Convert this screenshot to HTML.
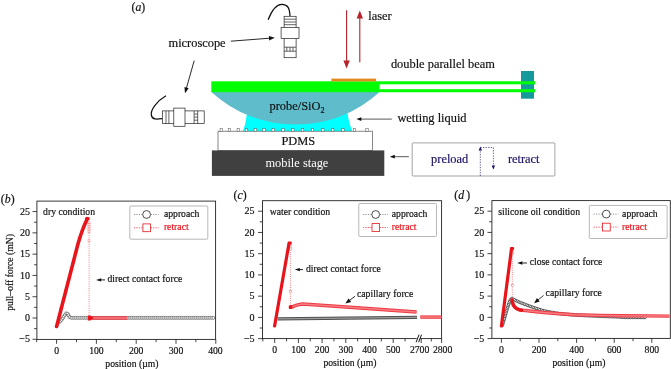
<!DOCTYPE html>
<html><head><meta charset="utf-8"><title>figure</title>
<style>
html,body{margin:0;padding:0;background:#fff;}
body{width:671px;height:369px;overflow:hidden;font-family:"Liberation Serif",serif;}
svg{display:block;font-family:"Liberation Serif",serif;will-change:transform;}
</style></head><body>
<svg width="671" height="369" viewBox="0 0 671 369">
<rect width="671" height="369" fill="#fff"/>
<g id="partA">
<text x="131.50" y="10.60" font-size="11.8" fill="#111" stroke="#111" stroke-width="0.18" text-anchor="start" >(<tspan font-style="italic">a</tspan>)</text>
<text x="168.50" y="46.90" font-size="12.4" fill="#111" stroke="#111" stroke-width="0.18" text-anchor="start" >microscope</text>
<line x1="230.80" y1="41.20" x2="270.01" y2="38.17" stroke="#111" stroke-width="0.9" />
<polygon points="274.80,37.80 269.19,40.44 268.85,36.05" fill="#111"/>
<line x1="194.20" y1="60.60" x2="186.30" y2="88.58" stroke="#111" stroke-width="0.9" />
<polygon points="185.00,93.20 184.46,87.02 188.69,88.22" fill="#111"/>
<path d="M268.1,19.8 C272,10 276,4.2 282,4.4 C288,4.6 289.6,8 290,16.3" fill="none" stroke="#111" stroke-width="1.25"/>
<rect x="284.1" y="16.3" width="12" height="41.4" stroke="#222" stroke-width="0.7" fill="#fff"/>
<line x1="284.10" y1="19.20" x2="296.10" y2="19.20" stroke="#222" stroke-width="0.7" />
<line x1="284.10" y1="22.00" x2="296.10" y2="22.00" stroke="#222" stroke-width="0.7" />
<line x1="284.10" y1="24.70" x2="296.10" y2="24.70" stroke="#222" stroke-width="0.7" />
<rect x="281.1" y="27.6" width="17.9" height="10.9" stroke="#222" stroke-width="0.7" fill="#fff"/>
<line x1="284.10" y1="47.20" x2="296.10" y2="47.20" stroke="#222" stroke-width="0.7" />
<line x1="284.10" y1="51.20" x2="296.10" y2="51.20" stroke="#222" stroke-width="0.7" />
<line x1="286.80" y1="47.20" x2="286.80" y2="51.20" stroke="#222" stroke-width="0.7" />
<line x1="290.00" y1="47.20" x2="290.00" y2="51.20" stroke="#222" stroke-width="0.7" />
<line x1="293.00" y1="47.20" x2="293.00" y2="51.20" stroke="#222" stroke-width="0.7" />
<path d="M166,95.8 C157,101 150,110 151.4,115.5 C152.5,120 157,119.3 162.4,118.6" fill="none" stroke="#111" stroke-width="1.25"/>
<rect x="162.4" y="110.9" width="41.8" height="12.7" stroke="#222" stroke-width="0.7" fill="#fff"/>
<line x1="166.00" y1="110.90" x2="166.00" y2="123.60" stroke="#222" stroke-width="0.7" />
<line x1="168.90" y1="110.90" x2="168.90" y2="123.60" stroke="#222" stroke-width="0.7" />
<rect x="173.8" y="108.1" width="11.2" height="18.2" stroke="#222" stroke-width="0.7" fill="#fff"/>
<line x1="194.10" y1="110.90" x2="194.10" y2="123.60" stroke="#222" stroke-width="0.7" />
<line x1="197.70" y1="110.90" x2="197.70" y2="123.60" stroke="#222" stroke-width="0.7" />
<line x1="194.10" y1="114.10" x2="197.70" y2="114.10" stroke="#222" stroke-width="0.7" />
<line x1="194.10" y1="117.10" x2="197.70" y2="117.10" stroke="#222" stroke-width="0.7" />
<line x1="194.10" y1="120.20" x2="197.70" y2="120.20" stroke="#222" stroke-width="0.7" />
<line x1="346.60" y1="10.30" x2="346.60" y2="61.50" stroke="#b5222d" stroke-width="1.1" />
<polygon points="346.60,68.50 343.40,60.50 349.80,60.50" fill="#b5222d"/>
<line x1="359.80" y1="62.30" x2="359.80" y2="17.60" stroke="#b5222d" stroke-width="1.1" />
<polygon points="359.80,10.60 363.00,18.60 356.60,18.60" fill="#b5222d"/>
<text x="368.20" y="19.60" font-size="12.4" fill="#111" stroke="#111" stroke-width="0.18" text-anchor="start" >laser</text>
<text x="390.90" y="68.20" font-size="12.4" fill="#111" stroke="#111" stroke-width="0.18" text-anchor="start" >double parallel beam</text>
<path d="M242.8,131.4 Q246.4,122.5 247.6,107 L347,107 Q347.7,121 352.5,131.4 Z" fill="#00ffff"/>
<path d="M211.3,91.5 L379.6,91.5 A124.9,124.9 0 0 1 211.3,91.5 Z" fill="#5fbccb" transform="translate(0,0.5)"/>
<rect x="211.3" y="81.3" width="168.3" height="10.9" fill="#00ff00"/>
<rect x="379" y="81.3" width="156" height="3" fill="#00ff00"/>
<rect x="379" y="89.2" width="156" height="3" fill="#00ff00"/>
<rect x="331.4" y="78.6" width="44.7" height="2.8" fill="#e08a1e"/>
<rect x="521" y="71" width="13" height="27.7" fill="#159a9c"/>
<rect x="521" y="81.3" width="14" height="3" fill="#00ff00"/>
<rect x="521" y="89.2" width="14" height="3" fill="#00ff00"/>
<text x="269.50" y="109.80" font-size="12.4" fill="#111" stroke="#111" stroke-width="0.18" text-anchor="start" >probe/SiO<tspan font-size="8.2" dy="3.6">2</tspan></text>
<rect x="218.0" y="131.2" width="154.6" height="19.3" fill="#fff" stroke="#555" stroke-width="0.7"/>
<rect x="220.1" y="128.7" width="2.4" height="2.5" fill="#fff" stroke="#555" stroke-width="0.5"/>
<rect x="228.2" y="128.7" width="2.4" height="2.5" fill="#fff" stroke="#555" stroke-width="0.5"/>
<rect x="237.1" y="128.7" width="2.4" height="2.5" fill="#fff" stroke="#555" stroke-width="0.5"/>
<rect x="245.2" y="128.7" width="2.4" height="2.5" fill="#fff" stroke="#555" stroke-width="0.5"/>
<rect x="254.1" y="128.7" width="2.4" height="2.5" fill="#fff" stroke="#555" stroke-width="0.5"/>
<rect x="262.8" y="128.7" width="2.4" height="2.5" fill="#fff" stroke="#555" stroke-width="0.5"/>
<rect x="272.0" y="128.7" width="2.4" height="2.5" fill="#fff" stroke="#555" stroke-width="0.5"/>
<rect x="281.8" y="128.7" width="2.4" height="2.5" fill="#fff" stroke="#555" stroke-width="0.5"/>
<rect x="291.6" y="128.7" width="2.4" height="2.5" fill="#fff" stroke="#555" stroke-width="0.5"/>
<rect x="301.4" y="128.7" width="2.4" height="2.5" fill="#fff" stroke="#555" stroke-width="0.5"/>
<rect x="311.3" y="128.7" width="2.4" height="2.5" fill="#fff" stroke="#555" stroke-width="0.5"/>
<rect x="321.6" y="128.7" width="2.4" height="2.5" fill="#fff" stroke="#555" stroke-width="0.5"/>
<rect x="331.5" y="128.7" width="2.4" height="2.5" fill="#fff" stroke="#555" stroke-width="0.5"/>
<rect x="341.7" y="128.7" width="2.4" height="2.5" fill="#fff" stroke="#555" stroke-width="0.5"/>
<rect x="353.3" y="128.7" width="2.4" height="2.5" fill="#fff" stroke="#555" stroke-width="0.5"/>
<rect x="365.8" y="128.7" width="2.4" height="2.5" fill="#fff" stroke="#555" stroke-width="0.5"/>
<text x="281.40" y="145.40" font-size="12.4" fill="#111" stroke="#111" stroke-width="0.18" text-anchor="start" >PDMS</text>
<rect x="211.9" y="150.4" width="172.4" height="25.5" fill="#404040"/>
<text x="265.40" y="167.00" font-size="12.4" fill="#fff" stroke="#fff" stroke-width="0" text-anchor="start" >mobile stage</text>
<line x1="391.80" y1="119.10" x2="360.40" y2="119.10" stroke="#111" stroke-width="0.7" />
<polygon points="356.40,119.10 361.40,117.20 361.40,121.00" fill="#111"/>
<text x="397.40" y="122.00" font-size="12.4" fill="#111" stroke="#111" stroke-width="0.18" text-anchor="start" >wetting liquid</text>
<line x1="408.90" y1="156.70" x2="393.80" y2="156.70" stroke="#111" stroke-width="0.7" />
<polygon points="389.80,156.70 394.80,154.80 394.80,158.60" fill="#111"/>
<rect x="412.2" y="142.9" width="142.7" height="33.1" rx="0.8" fill="#fff" stroke="#666" stroke-width="0.6"/>
<text x="431.10" y="162.90" font-size="12.4" fill="#1b1464" stroke="#1b1464" stroke-width="0.18" text-anchor="start" >preload</text>
<text x="507.90" y="162.90" font-size="12.4" fill="#1b1464" stroke="#1b1464" stroke-width="0.18" text-anchor="start" >retract</text>
<path d="M480.3,176 L480.3,147.5 L493.4,147.5 L493.4,168.5" fill="none" stroke="#1b1464" stroke-width="0.7" stroke-dasharray="1.3,1.3"/>
<polygon points="480.3,146.6 478.6,150.6 482,150.6" fill="#1b1464"/>
<polygon points="493.4,169.6 491.7,165.6 495.1,165.6" fill="#1b1464"/>
</g>
<g id="chartb">
<rect x="36.9" y="201.1" width="178.70" height="138.30" fill="none" stroke="#222" stroke-width="0.9"/>
<line x1="32.50" y1="339.28" x2="36.90" y2="339.28" stroke="#222" stroke-width="0.85" />
<text x="29.90" y="342.48" font-size="10" fill="#111" stroke="#111" stroke-width="0.18" text-anchor="end" >−5</text>
<line x1="32.50" y1="318.00" x2="36.90" y2="318.00" stroke="#222" stroke-width="0.85" />
<text x="29.90" y="321.20" font-size="10" fill="#111" stroke="#111" stroke-width="0.18" text-anchor="end" >0</text>
<line x1="32.50" y1="296.72" x2="36.90" y2="296.72" stroke="#222" stroke-width="0.85" />
<text x="29.90" y="299.92" font-size="10" fill="#111" stroke="#111" stroke-width="0.18" text-anchor="end" >5</text>
<line x1="32.50" y1="275.43" x2="36.90" y2="275.43" stroke="#222" stroke-width="0.85" />
<text x="29.90" y="278.63" font-size="10" fill="#111" stroke="#111" stroke-width="0.18" text-anchor="end" >10</text>
<line x1="32.50" y1="254.15" x2="36.90" y2="254.15" stroke="#222" stroke-width="0.85" />
<text x="29.90" y="257.35" font-size="10" fill="#111" stroke="#111" stroke-width="0.18" text-anchor="end" >15</text>
<line x1="32.50" y1="232.86" x2="36.90" y2="232.86" stroke="#222" stroke-width="0.85" />
<text x="29.90" y="236.06" font-size="10" fill="#111" stroke="#111" stroke-width="0.18" text-anchor="end" >20</text>
<line x1="32.50" y1="211.57" x2="36.90" y2="211.57" stroke="#222" stroke-width="0.85" />
<text x="29.90" y="214.77" font-size="10" fill="#111" stroke="#111" stroke-width="0.18" text-anchor="end" >25</text>
<line x1="34.10" y1="328.64" x2="36.90" y2="328.64" stroke="#222" stroke-width="0.85" />
<line x1="34.10" y1="307.36" x2="36.90" y2="307.36" stroke="#222" stroke-width="0.85" />
<line x1="34.10" y1="286.07" x2="36.90" y2="286.07" stroke="#222" stroke-width="0.85" />
<line x1="34.10" y1="264.79" x2="36.90" y2="264.79" stroke="#222" stroke-width="0.85" />
<line x1="34.10" y1="243.50" x2="36.90" y2="243.50" stroke="#222" stroke-width="0.85" />
<line x1="34.10" y1="222.22" x2="36.90" y2="222.22" stroke="#222" stroke-width="0.85" />
<line x1="56.60" y1="339.40" x2="56.60" y2="343.80" stroke="#222" stroke-width="0.85" />
<line x1="96.40" y1="339.40" x2="96.40" y2="343.80" stroke="#222" stroke-width="0.85" />
<line x1="136.20" y1="339.40" x2="136.20" y2="343.80" stroke="#222" stroke-width="0.85" />
<line x1="176.00" y1="339.40" x2="176.00" y2="343.80" stroke="#222" stroke-width="0.85" />
<line x1="215.80" y1="339.40" x2="215.80" y2="343.80" stroke="#222" stroke-width="0.85" />
<line x1="36.70" y1="339.40" x2="36.70" y2="342.20" stroke="#222" stroke-width="0.85" />
<line x1="76.50" y1="339.40" x2="76.50" y2="342.20" stroke="#222" stroke-width="0.85" />
<line x1="116.30" y1="339.40" x2="116.30" y2="342.20" stroke="#222" stroke-width="0.85" />
<line x1="156.10" y1="339.40" x2="156.10" y2="342.20" stroke="#222" stroke-width="0.85" />
<line x1="195.90" y1="339.40" x2="195.90" y2="342.20" stroke="#222" stroke-width="0.85" />
<text x="56.60" y="354.00" font-size="9.7" fill="#111" stroke="#111" stroke-width="0.18" text-anchor="middle" >0</text>
<text x="96.40" y="354.00" font-size="9.7" fill="#111" stroke="#111" stroke-width="0.18" text-anchor="middle" >100</text>
<text x="136.20" y="354.00" font-size="9.7" fill="#111" stroke="#111" stroke-width="0.18" text-anchor="middle" >200</text>
<text x="176.00" y="354.00" font-size="9.7" fill="#111" stroke="#111" stroke-width="0.18" text-anchor="middle" >300</text>
<text x="215.40" y="354.00" font-size="9.7" fill="#111" stroke="#111" stroke-width="0.18" text-anchor="middle" >400</text>
<text x="131.90" y="366.60" font-size="9.7" fill="#111" stroke="#111" stroke-width="0.18" text-anchor="middle" >position (µm)</text>
<text x="0.80" y="203.40" font-size="11.8" fill="#111" stroke="#111" stroke-width="0.18" text-anchor="start" >(<tspan font-style="italic">b</tspan><tspan dx="0">)</tspan></text>
<text x="43.10" y="214.80" font-size="9.7" fill="#111" stroke="#111" stroke-width="0.18" text-anchor="start" >dry condition</text>
<text transform="translate(13.2,272.4) rotate(-90)" font-size="9.7" fill="#111" stroke="#111" stroke-width="0.18" text-anchor="middle">pull–off force (mN)</text>
<rect x="129.8" y="206.0" width="78.00" height="33.20" rx="1" fill="#fff" stroke="#999" stroke-width="0.7"/>
<line x1="134.00" y1="214.50" x2="158.60" y2="214.50" stroke="#666" stroke-width="0.7" stroke-dasharray="1.2,1.2"/>
<circle cx="146.6" cy="214.5" r="3.9" fill="#fff" stroke="#222" stroke-width="0.8"/>
<text x="163.90" y="217.10" font-size="9.7" fill="#111" stroke="#111" stroke-width="0.18" text-anchor="start" >approach</text>
<line x1="134.00" y1="227.80" x2="158.60" y2="227.80" stroke="#e8141c" stroke-width="0.7" stroke-dasharray="1.2,1.2"/>
<rect x="142.9" y="223.9" width="7.6" height="7.8" fill="#fff" stroke="#e8141c" stroke-width="0.8"/>
<text x="163.90" y="230.30" font-size="9.7" fill="#e8141c" stroke="#e8141c" stroke-width="0.18" text-anchor="start" >retract</text>
<g fill="#fff" stroke="#2a2a2a" stroke-width="0.55"><circle cx="58.60" cy="322.50" r="1.5"/><circle cx="60.17" cy="321.26" r="1.5"/><circle cx="61.56" cy="319.84" r="1.5"/><circle cx="62.74" cy="318.23" r="1.5"/><circle cx="63.88" cy="316.59" r="1.5"/><circle cx="64.93" cy="314.89" r="1.5"/><circle cx="66.19" cy="313.39" r="1.5"/><circle cx="67.64" cy="313.77" r="1.5"/><circle cx="68.64" cy="315.49" r="1.5"/><circle cx="69.71" cy="317.15" r="1.5"/><circle cx="71.39" cy="317.90" r="1.5"/><circle cx="73.39" cy="317.90" r="1.5"/><circle cx="75.39" cy="317.90" r="1.5"/><circle cx="77.39" cy="317.90" r="1.5"/><circle cx="79.39" cy="317.90" r="1.5"/><circle cx="81.39" cy="317.90" r="1.5"/><circle cx="83.39" cy="317.90" r="1.5"/><circle cx="85.39" cy="317.90" r="1.5"/><circle cx="87.39" cy="317.90" r="1.5"/><circle cx="89.39" cy="317.90" r="1.5"/><circle cx="91.39" cy="317.90" r="1.5"/><circle cx="93.39" cy="317.90" r="1.5"/><circle cx="95.39" cy="317.90" r="1.5"/><circle cx="97.39" cy="317.90" r="1.5"/><circle cx="99.39" cy="317.90" r="1.5"/><circle cx="101.39" cy="317.90" r="1.5"/><circle cx="103.39" cy="317.90" r="1.5"/><circle cx="105.39" cy="317.90" r="1.5"/><circle cx="107.39" cy="317.90" r="1.5"/><circle cx="109.39" cy="317.90" r="1.5"/><circle cx="111.39" cy="317.90" r="1.5"/><circle cx="113.39" cy="317.90" r="1.5"/><circle cx="115.39" cy="317.90" r="1.5"/><circle cx="117.39" cy="317.90" r="1.5"/><circle cx="119.39" cy="317.90" r="1.5"/><circle cx="121.39" cy="317.90" r="1.5"/><circle cx="123.39" cy="317.90" r="1.5"/><circle cx="125.39" cy="317.90" r="1.5"/><circle cx="127.39" cy="317.90" r="1.5"/><circle cx="129.39" cy="317.90" r="1.5"/><circle cx="131.39" cy="317.90" r="1.5"/><circle cx="133.39" cy="317.90" r="1.5"/><circle cx="135.39" cy="317.90" r="1.5"/><circle cx="137.39" cy="317.90" r="1.5"/><circle cx="139.39" cy="317.90" r="1.5"/><circle cx="141.39" cy="317.90" r="1.5"/><circle cx="143.39" cy="317.90" r="1.5"/><circle cx="145.39" cy="317.90" r="1.5"/><circle cx="147.39" cy="317.90" r="1.5"/><circle cx="149.39" cy="317.90" r="1.5"/><circle cx="151.39" cy="317.90" r="1.5"/><circle cx="153.39" cy="317.90" r="1.5"/><circle cx="155.39" cy="317.90" r="1.5"/><circle cx="157.39" cy="317.90" r="1.5"/><circle cx="159.39" cy="317.90" r="1.5"/><circle cx="161.39" cy="317.90" r="1.5"/><circle cx="163.39" cy="317.90" r="1.5"/><circle cx="165.39" cy="317.90" r="1.5"/><circle cx="167.39" cy="317.90" r="1.5"/><circle cx="169.39" cy="317.90" r="1.5"/><circle cx="171.39" cy="317.90" r="1.5"/><circle cx="173.39" cy="317.90" r="1.5"/><circle cx="175.39" cy="317.90" r="1.5"/><circle cx="177.39" cy="317.90" r="1.5"/><circle cx="179.39" cy="317.90" r="1.5"/><circle cx="181.39" cy="317.90" r="1.5"/><circle cx="183.39" cy="317.90" r="1.5"/><circle cx="185.39" cy="317.90" r="1.5"/><circle cx="187.39" cy="317.90" r="1.5"/><circle cx="189.39" cy="317.90" r="1.5"/><circle cx="191.39" cy="317.90" r="1.5"/><circle cx="193.39" cy="317.90" r="1.5"/><circle cx="195.39" cy="317.90" r="1.5"/><circle cx="197.39" cy="317.90" r="1.5"/><circle cx="199.39" cy="317.90" r="1.5"/><circle cx="201.39" cy="317.90" r="1.5"/><circle cx="203.39" cy="317.90" r="1.5"/><circle cx="205.39" cy="317.90" r="1.5"/><circle cx="207.39" cy="317.90" r="1.5"/><circle cx="209.39" cy="317.90" r="1.5"/><circle cx="211.39" cy="317.90" r="1.5"/><circle cx="213.39" cy="317.90" r="1.5"/></g>
<polyline points="92.00,317.90 127.20,317.90" fill="none" stroke="#ee3a43" stroke-width="3.5" stroke-linecap="butt" stroke-linejoin="round"/>
<polyline points="92.00,317.90 127.20,317.90" fill="none" stroke="#f67c83" stroke-width="1.5" stroke-linecap="butt" stroke-linejoin="round"/>
<line x1="89.10" y1="222.00" x2="89.10" y2="316.00" stroke="#ee4a52" stroke-width="0.7" stroke-dasharray="1,1.2"/>
<g fill="#fff" stroke="#f0686c" stroke-width="0.45"><rect x="88.00" y="221.80" width="2.0" height="2.0"/><rect x="88.00" y="223.60" width="2.0" height="2.0"/><rect x="88.00" y="225.40" width="2.0" height="2.0"/><rect x="88.00" y="227.20" width="2.0" height="2.0"/><rect x="88.00" y="229.00" width="2.0" height="2.0"/><rect x="88.00" y="230.80" width="2.0" height="2.0"/><rect x="88.00" y="239.80" width="2.0" height="2.0"/></g>
<polyline points="56.60,326.50 57.07,324.70 57.53,322.90 58.00,321.11 58.46,319.31 58.93,317.51 59.39,315.71 59.86,313.91 60.33,312.11 60.79,310.31 61.26,308.52 61.72,306.72 62.19,304.92 62.65,303.12 63.12,301.32 63.59,299.52 64.05,297.73 64.52,295.93 64.98,294.13 65.45,292.33 65.92,290.53 66.38,288.74 66.85,286.94 67.31,285.14 67.78,283.34 68.24,281.54 68.71,279.74 69.18,277.94 69.64,276.15 70.11,274.35 70.57,272.55 71.04,270.75 71.50,268.95 71.97,267.15 72.44,265.36 72.90,263.56 73.37,261.76 73.83,259.96 74.30,258.16 74.76,256.37 75.23,254.57 75.70,252.77 76.16,250.97 76.63,249.17 77.09,247.37 77.56,245.57 78.04,243.78 78.55,241.98 79.08,240.18 79.64,238.38 80.22,236.58 80.82,234.78 81.45,232.99 82.10,231.19 82.77,229.39 83.47,227.59 84.19,225.79 84.94,224.00 85.71,222.20 86.51,220.40 87.32,218.60" fill="none" stroke="#e8141c" stroke-width="3.6" stroke-linecap="round" stroke-linejoin="round" />
<ellipse cx="87.3" cy="218.7" rx="2.5" ry="1.7" fill="#e8141c"/>
<path d="M87.8,315.4 L90.5,315.4 L93.6,317.9 L90.5,320.4 L87.8,320.4 Z" fill="#e8141c"/>
<line x1="105.00" y1="279.90" x2="100.20" y2="279.90" stroke="#111" stroke-width="0.9" />
<polygon points="96.00,279.90 101.20,278.20 101.20,281.60" fill="#111"/>
<text x="107.50" y="282.30" font-size="9.7" fill="#111" stroke="#111" stroke-width="0.18" text-anchor="start" >direct contact force</text>
</g>
<g id="chartc">
<rect x="262.5" y="200.7" width="179.10" height="137.90" fill="none" stroke="#222" stroke-width="0.9"/>
<line x1="258.10" y1="338.63" x2="262.50" y2="338.63" stroke="#222" stroke-width="0.85" />
<text x="254.60" y="341.83" font-size="10" fill="#111" stroke="#111" stroke-width="0.18" text-anchor="end" >−5</text>
<line x1="258.10" y1="317.40" x2="262.50" y2="317.40" stroke="#222" stroke-width="0.85" />
<text x="254.60" y="320.60" font-size="10" fill="#111" stroke="#111" stroke-width="0.18" text-anchor="end" >0</text>
<line x1="258.10" y1="296.16" x2="262.50" y2="296.16" stroke="#222" stroke-width="0.85" />
<text x="254.60" y="299.36" font-size="10" fill="#111" stroke="#111" stroke-width="0.18" text-anchor="end" >5</text>
<line x1="258.10" y1="274.93" x2="262.50" y2="274.93" stroke="#222" stroke-width="0.85" />
<text x="254.60" y="278.13" font-size="10" fill="#111" stroke="#111" stroke-width="0.18" text-anchor="end" >10</text>
<line x1="258.10" y1="253.69" x2="262.50" y2="253.69" stroke="#222" stroke-width="0.85" />
<text x="254.60" y="256.89" font-size="10" fill="#111" stroke="#111" stroke-width="0.18" text-anchor="end" >15</text>
<line x1="258.10" y1="232.46" x2="262.50" y2="232.46" stroke="#222" stroke-width="0.85" />
<text x="254.60" y="235.66" font-size="10" fill="#111" stroke="#111" stroke-width="0.18" text-anchor="end" >20</text>
<line x1="258.10" y1="211.22" x2="262.50" y2="211.22" stroke="#222" stroke-width="0.85" />
<text x="254.60" y="214.42" font-size="10" fill="#111" stroke="#111" stroke-width="0.18" text-anchor="end" >25</text>
<line x1="259.70" y1="328.02" x2="262.50" y2="328.02" stroke="#222" stroke-width="0.85" />
<line x1="259.70" y1="306.78" x2="262.50" y2="306.78" stroke="#222" stroke-width="0.85" />
<line x1="259.70" y1="285.55" x2="262.50" y2="285.55" stroke="#222" stroke-width="0.85" />
<line x1="259.70" y1="264.31" x2="262.50" y2="264.31" stroke="#222" stroke-width="0.85" />
<line x1="259.70" y1="243.08" x2="262.50" y2="243.08" stroke="#222" stroke-width="0.85" />
<line x1="259.70" y1="221.84" x2="262.50" y2="221.84" stroke="#222" stroke-width="0.85" />
<line x1="274.70" y1="338.60" x2="274.70" y2="343.00" stroke="#222" stroke-width="0.85" />
<line x1="298.40" y1="338.60" x2="298.40" y2="343.00" stroke="#222" stroke-width="0.85" />
<line x1="322.10" y1="338.60" x2="322.10" y2="343.00" stroke="#222" stroke-width="0.85" />
<line x1="345.80" y1="338.60" x2="345.80" y2="343.00" stroke="#222" stroke-width="0.85" />
<line x1="369.50" y1="338.60" x2="369.50" y2="343.00" stroke="#222" stroke-width="0.85" />
<line x1="393.20" y1="338.60" x2="393.20" y2="343.00" stroke="#222" stroke-width="0.85" />
<line x1="421.20" y1="338.60" x2="421.20" y2="343.00" stroke="#222" stroke-width="0.85" />
<line x1="441.60" y1="338.60" x2="441.60" y2="343.00" stroke="#222" stroke-width="0.85" />
<line x1="262.85" y1="338.60" x2="262.85" y2="341.40" stroke="#222" stroke-width="0.85" />
<line x1="286.55" y1="338.60" x2="286.55" y2="341.40" stroke="#222" stroke-width="0.85" />
<line x1="310.25" y1="338.60" x2="310.25" y2="341.40" stroke="#222" stroke-width="0.85" />
<line x1="333.95" y1="338.60" x2="333.95" y2="341.40" stroke="#222" stroke-width="0.85" />
<line x1="357.65" y1="338.60" x2="357.65" y2="341.40" stroke="#222" stroke-width="0.85" />
<line x1="381.35" y1="338.60" x2="381.35" y2="341.40" stroke="#222" stroke-width="0.85" />
<line x1="405.05" y1="338.60" x2="405.05" y2="341.40" stroke="#222" stroke-width="0.85" />
<line x1="431.30" y1="338.60" x2="431.30" y2="341.40" stroke="#222" stroke-width="0.85" />
<text x="274.70" y="353.20" font-size="9.7" fill="#111" stroke="#111" stroke-width="0.18" text-anchor="middle" >0</text>
<text x="298.40" y="353.20" font-size="9.7" fill="#111" stroke="#111" stroke-width="0.18" text-anchor="middle" >100</text>
<text x="322.10" y="353.20" font-size="9.7" fill="#111" stroke="#111" stroke-width="0.18" text-anchor="middle" >200</text>
<text x="345.80" y="353.20" font-size="9.7" fill="#111" stroke="#111" stroke-width="0.18" text-anchor="middle" >300</text>
<text x="369.50" y="353.20" font-size="9.7" fill="#111" stroke="#111" stroke-width="0.18" text-anchor="middle" >400</text>
<text x="393.20" y="353.20" font-size="9.7" fill="#111" stroke="#111" stroke-width="0.18" text-anchor="middle" >500</text>
<text x="419.60" y="353.20" font-size="9.7" fill="#111" stroke="#111" stroke-width="0.18" text-anchor="middle" >2700</text>
<text x="442.60" y="353.20" font-size="9.7" fill="#111" stroke="#111" stroke-width="0.18" text-anchor="middle" >2800</text>
<text x="350.00" y="365.80" font-size="9.7" fill="#111" stroke="#111" stroke-width="0.18" text-anchor="middle" >position (µm)</text>
<text x="233.50" y="198.60" font-size="11.8" fill="#111" stroke="#111" stroke-width="0.18" text-anchor="start" >(<tspan font-style="italic">c</tspan><tspan dx="0">)</tspan></text>
<text x="269.70" y="214.80" font-size="9.7" fill="#111" stroke="#111" stroke-width="0.18" text-anchor="start" >water condition</text>
<rect x="358.8" y="203.5" width="77.70" height="33.00" rx="1" fill="#fff" stroke="#999" stroke-width="0.7"/>
<line x1="363.10" y1="214.50" x2="387.70" y2="214.50" stroke="#666" stroke-width="0.7" stroke-dasharray="1.2,1.2"/>
<circle cx="375.7" cy="214.5" r="3.9" fill="#fff" stroke="#222" stroke-width="0.8"/>
<text x="391.80" y="217.10" font-size="9.7" fill="#111" stroke="#111" stroke-width="0.18" text-anchor="start" >approach</text>
<line x1="363.10" y1="227.50" x2="387.70" y2="227.50" stroke="#e8141c" stroke-width="0.7" stroke-dasharray="1.2,1.2"/>
<rect x="372.0" y="223.6" width="7.6" height="7.8" fill="#fff" stroke="#e8141c" stroke-width="0.8"/>
<text x="391.80" y="230.00" font-size="9.7" fill="#e8141c" stroke="#e8141c" stroke-width="0.18" text-anchor="start" >retract</text>
<polyline points="277.60,318.90 417.00,317.40" fill="none" stroke="#505050" stroke-width="3.2" stroke-linecap="butt" stroke-linejoin="round"/>
<polyline points="277.60,318.90 417.00,317.40" fill="none" stroke="#9c9c9c" stroke-width="1.3" stroke-linecap="butt" stroke-linejoin="round"/>
<polyline points="291.50,307.20 293.50,306.40 296.00,305.40 299.70,304.40 302.80,304.00 353.10,307.60 416.60,311.90" fill="none" stroke="#ee3a43" stroke-width="3.5" stroke-linecap="butt" stroke-linejoin="round"/>
<polyline points="291.50,307.20 293.50,306.40 296.00,305.40 299.70,304.40 302.80,304.00 353.10,307.60 416.60,311.90" fill="none" stroke="#f67c83" stroke-width="1.5" stroke-linecap="butt" stroke-linejoin="round"/>
<polyline points="420.30,317.10 441.40,317.10" fill="none" stroke="#ee3a43" stroke-width="3.4" stroke-linecap="butt" stroke-linejoin="round"/>
<polyline points="420.30,317.10 441.40,317.10" fill="none" stroke="#f67c83" stroke-width="1.5" stroke-linecap="butt" stroke-linejoin="round"/>
<line x1="290.40" y1="243.00" x2="290.40" y2="306.00" stroke="#ee4a52" stroke-width="0.7" stroke-dasharray="1,1.2"/>
<g fill="#fff" stroke="#f0686c" stroke-width="0.45"><rect x="289.30" y="243.50" width="2.0" height="2.0"/><rect x="289.30" y="245.80" width="2.0" height="2.0"/><rect x="289.30" y="248.00" width="2.0" height="2.0"/><rect x="289.30" y="290.50" width="2.0" height="2.0"/></g>
<polyline points="274.60,326.00 289.00,243.40" fill="none" stroke="#e8141c" stroke-width="3.2" stroke-linecap="round" stroke-linejoin="round" />
<rect x="287.9" y="241.6" width="3.8" height="3.0" rx="1" fill="#e8141c"/>
<rect x="288.8" y="305.3" width="3.6" height="3.8" rx="0.8" fill="#e8141c"/>
<rect x="416.6" y="337.6" width="3.4" height="2" fill="#fff"/>
<line x1="416.10" y1="342.20" x2="419.10" y2="334.60" stroke="#111" stroke-width="1.0" />
<line x1="418.60" y1="342.20" x2="421.60" y2="334.60" stroke="#111" stroke-width="1.0" />
<line x1="303.00" y1="269.60" x2="298.90" y2="269.60" stroke="#111" stroke-width="0.9" />
<polygon points="294.70,269.60 299.90,267.90 299.90,271.30" fill="#111"/>
<text x="306.00" y="272.00" font-size="9.7" fill="#111" stroke="#111" stroke-width="0.18" text-anchor="start" >direct contact force</text>
<line x1="355.10" y1="296.20" x2="349.06" y2="300.81" stroke="#111" stroke-width="0.9" />
<polygon points="345.40,303.60 348.52,298.45 351.19,301.95" fill="#111"/>
<text x="357.00" y="296.80" font-size="9.7" fill="#111" stroke="#111" stroke-width="0.18" text-anchor="start" >capillary force</text>
</g>
<g id="chartd">
<rect x="491.9" y="200.6" width="178.40" height="137.80" fill="none" stroke="#222" stroke-width="0.9"/>
<line x1="487.50" y1="338.59" x2="491.90" y2="338.59" stroke="#222" stroke-width="0.85" />
<text x="484.30" y="341.79" font-size="10" fill="#111" stroke="#111" stroke-width="0.18" text-anchor="end" >−5</text>
<line x1="487.50" y1="317.35" x2="491.90" y2="317.35" stroke="#222" stroke-width="0.85" />
<text x="484.30" y="320.55" font-size="10" fill="#111" stroke="#111" stroke-width="0.18" text-anchor="end" >0</text>
<line x1="487.50" y1="296.12" x2="491.90" y2="296.12" stroke="#222" stroke-width="0.85" />
<text x="484.30" y="299.31" font-size="10" fill="#111" stroke="#111" stroke-width="0.18" text-anchor="end" >5</text>
<line x1="487.50" y1="274.88" x2="491.90" y2="274.88" stroke="#222" stroke-width="0.85" />
<text x="484.30" y="278.08" font-size="10" fill="#111" stroke="#111" stroke-width="0.18" text-anchor="end" >10</text>
<line x1="487.50" y1="253.65" x2="491.90" y2="253.65" stroke="#222" stroke-width="0.85" />
<text x="484.30" y="256.85" font-size="10" fill="#111" stroke="#111" stroke-width="0.18" text-anchor="end" >15</text>
<line x1="487.50" y1="232.41" x2="491.90" y2="232.41" stroke="#222" stroke-width="0.85" />
<text x="484.30" y="235.61" font-size="10" fill="#111" stroke="#111" stroke-width="0.18" text-anchor="end" >20</text>
<line x1="487.50" y1="211.18" x2="491.90" y2="211.18" stroke="#222" stroke-width="0.85" />
<text x="484.30" y="214.38" font-size="10" fill="#111" stroke="#111" stroke-width="0.18" text-anchor="end" >25</text>
<line x1="489.10" y1="327.97" x2="491.90" y2="327.97" stroke="#222" stroke-width="0.85" />
<line x1="489.10" y1="306.73" x2="491.90" y2="306.73" stroke="#222" stroke-width="0.85" />
<line x1="489.10" y1="285.50" x2="491.90" y2="285.50" stroke="#222" stroke-width="0.85" />
<line x1="489.10" y1="264.26" x2="491.90" y2="264.26" stroke="#222" stroke-width="0.85" />
<line x1="489.10" y1="243.03" x2="491.90" y2="243.03" stroke="#222" stroke-width="0.85" />
<line x1="489.10" y1="221.79" x2="491.90" y2="221.79" stroke="#222" stroke-width="0.85" />
<line x1="501.40" y1="338.40" x2="501.40" y2="342.80" stroke="#222" stroke-width="0.85" />
<line x1="539.00" y1="338.40" x2="539.00" y2="342.80" stroke="#222" stroke-width="0.85" />
<line x1="576.60" y1="338.40" x2="576.60" y2="342.80" stroke="#222" stroke-width="0.85" />
<line x1="614.20" y1="338.40" x2="614.20" y2="342.80" stroke="#222" stroke-width="0.85" />
<line x1="651.80" y1="338.40" x2="651.80" y2="342.80" stroke="#222" stroke-width="0.85" />
<line x1="520.20" y1="338.40" x2="520.20" y2="341.20" stroke="#222" stroke-width="0.85" />
<line x1="557.80" y1="338.40" x2="557.80" y2="341.20" stroke="#222" stroke-width="0.85" />
<line x1="595.40" y1="338.40" x2="595.40" y2="341.20" stroke="#222" stroke-width="0.85" />
<line x1="633.00" y1="338.40" x2="633.00" y2="341.20" stroke="#222" stroke-width="0.85" />
<text x="501.40" y="353.00" font-size="9.7" fill="#111" stroke="#111" stroke-width="0.18" text-anchor="middle" >0</text>
<text x="539.00" y="353.00" font-size="9.7" fill="#111" stroke="#111" stroke-width="0.18" text-anchor="middle" >200</text>
<text x="576.60" y="353.00" font-size="9.7" fill="#111" stroke="#111" stroke-width="0.18" text-anchor="middle" >400</text>
<text x="614.20" y="353.00" font-size="9.7" fill="#111" stroke="#111" stroke-width="0.18" text-anchor="middle" >600</text>
<text x="651.80" y="353.00" font-size="9.7" fill="#111" stroke="#111" stroke-width="0.18" text-anchor="middle" >800</text>
<text x="579.00" y="365.60" font-size="9.7" fill="#111" stroke="#111" stroke-width="0.18" text-anchor="middle" >position (µm)</text>
<text x="454.30" y="198.60" font-size="11.8" fill="#111" stroke="#111" stroke-width="0.18" text-anchor="start" >(<tspan font-style="italic">d</tspan><tspan dx="2.2">)</tspan></text>
<text x="498.20" y="214.80" font-size="9.7" fill="#111" stroke="#111" stroke-width="0.18" text-anchor="start" >silicone oil condition</text>
<rect x="589.3" y="205.4" width="77.80" height="33.10" rx="1" fill="#fff" stroke="#999" stroke-width="0.7"/>
<line x1="593.70" y1="214.10" x2="618.30" y2="214.10" stroke="#666" stroke-width="0.7" stroke-dasharray="1.2,1.2"/>
<circle cx="606.3" cy="214.1" r="3.9" fill="#fff" stroke="#222" stroke-width="0.8"/>
<text x="622.10" y="216.70" font-size="9.7" fill="#111" stroke="#111" stroke-width="0.18" text-anchor="start" >approach</text>
<line x1="593.70" y1="227.10" x2="618.30" y2="227.10" stroke="#e8141c" stroke-width="0.7" stroke-dasharray="1.2,1.2"/>
<rect x="602.5999999999999" y="223.2" width="7.6" height="7.8" fill="#fff" stroke="#e8141c" stroke-width="0.8"/>
<text x="622.10" y="229.60" font-size="9.7" fill="#e8141c" stroke="#e8141c" stroke-width="0.18" text-anchor="start" >retract</text>
<g fill="#fff" stroke="#111" stroke-width="0.62"><circle cx="502.30" cy="325.50" r="1.3"/><circle cx="502.76" cy="323.97" r="1.3"/><circle cx="503.22" cy="322.43" r="1.3"/><circle cx="503.68" cy="320.90" r="1.3"/><circle cx="504.13" cy="319.37" r="1.3"/><circle cx="504.58" cy="317.83" r="1.3"/><circle cx="505.03" cy="316.30" r="1.3"/><circle cx="505.47" cy="314.76" r="1.3"/><circle cx="505.92" cy="313.22" r="1.3"/><circle cx="506.37" cy="311.69" r="1.3"/><circle cx="506.81" cy="310.15" r="1.3"/><circle cx="507.28" cy="308.62" r="1.3"/><circle cx="507.76" cy="307.09" r="1.3"/><circle cx="508.23" cy="305.57" r="1.3"/><circle cx="508.73" cy="304.04" r="1.3"/><circle cx="509.28" cy="302.54" r="1.3"/><circle cx="509.84" cy="301.04" r="1.3"/><circle cx="510.53" cy="299.60" r="1.3"/><circle cx="511.68" cy="298.69" r="1.3"/><circle cx="513.15" cy="299.13" r="1.3"/><circle cx="514.59" cy="299.83" r="1.3"/><circle cx="516.02" cy="300.54" r="1.3"/><circle cx="517.46" cy="301.24" r="1.3"/><circle cx="518.89" cy="301.95" r="1.3"/><circle cx="520.38" cy="302.55" r="1.3"/><circle cx="521.86" cy="303.14" r="1.3"/><circle cx="523.35" cy="303.74" r="1.3"/><circle cx="524.83" cy="304.33" r="1.3"/><circle cx="526.33" cy="304.90" r="1.3"/><circle cx="527.84" cy="305.44" r="1.3"/><circle cx="529.34" cy="305.98" r="1.3"/><circle cx="530.85" cy="306.53" r="1.3"/><circle cx="532.35" cy="307.06" r="1.3"/><circle cx="533.87" cy="307.58" r="1.3"/><circle cx="535.38" cy="308.10" r="1.3"/><circle cx="536.89" cy="308.62" r="1.3"/><circle cx="538.41" cy="309.12" r="1.3"/><circle cx="539.94" cy="309.60" r="1.3"/><circle cx="541.47" cy="310.07" r="1.3"/><circle cx="543.00" cy="310.55" r="1.3"/><circle cx="544.54" cy="310.95" r="1.3"/><circle cx="546.11" cy="311.26" r="1.3"/><circle cx="547.68" cy="311.56" r="1.3"/><circle cx="549.25" cy="311.87" r="1.3"/><circle cx="550.83" cy="312.17" r="1.3"/><circle cx="552.40" cy="312.45" r="1.3"/><circle cx="553.97" cy="312.73" r="1.3"/><circle cx="555.55" cy="313.02" r="1.3"/><circle cx="557.13" cy="313.25" r="1.3"/><circle cx="558.72" cy="313.46" r="1.3"/><circle cx="560.30" cy="313.67" r="1.3"/><circle cx="561.89" cy="313.89" r="1.3"/><circle cx="563.48" cy="314.03" r="1.3"/><circle cx="565.08" cy="314.18" r="1.3"/><circle cx="566.67" cy="314.32" r="1.3"/><circle cx="568.26" cy="314.46" r="1.3"/><circle cx="569.86" cy="314.60" r="1.3"/><circle cx="571.45" cy="314.75" r="1.3"/><circle cx="573.04" cy="314.89" r="1.3"/><circle cx="574.64" cy="315.02" r="1.3"/><circle cx="576.24" cy="315.11" r="1.3"/><circle cx="577.83" cy="315.20" r="1.3"/><circle cx="579.43" cy="315.29" r="1.3"/><circle cx="581.03" cy="315.38" r="1.3"/><circle cx="582.63" cy="315.47" r="1.3"/><circle cx="584.22" cy="315.56" r="1.3"/><circle cx="585.82" cy="315.64" r="1.3"/><circle cx="587.42" cy="315.71" r="1.3"/><circle cx="589.02" cy="315.79" r="1.3"/><circle cx="590.62" cy="315.86" r="1.3"/><circle cx="592.22" cy="315.93" r="1.3"/><circle cx="593.81" cy="316.01" r="1.3"/><circle cx="595.41" cy="316.08" r="1.3"/><circle cx="597.01" cy="316.15" r="1.3"/><circle cx="598.61" cy="316.22" r="1.3"/><circle cx="600.21" cy="316.28" r="1.3"/><circle cx="601.81" cy="316.33" r="1.3"/><circle cx="603.41" cy="316.39" r="1.3"/><circle cx="605.00" cy="316.45" r="1.3"/><circle cx="606.60" cy="316.50" r="1.3"/><circle cx="608.20" cy="316.56" r="1.3"/><circle cx="609.80" cy="316.61" r="1.3"/><circle cx="611.40" cy="316.67" r="1.3"/><circle cx="613.00" cy="316.72" r="1.3"/><circle cx="614.60" cy="316.78" r="1.3"/><circle cx="616.20" cy="316.84" r="1.3"/><circle cx="617.80" cy="316.89" r="1.3"/><circle cx="619.39" cy="317.00" r="1.3"/><circle cx="620.99" cy="317.11" r="1.3"/><circle cx="622.59" cy="317.23" r="1.3"/><circle cx="624.18" cy="317.34" r="1.3"/><circle cx="625.78" cy="317.40" r="1.3"/><circle cx="627.38" cy="317.41" r="1.3"/><circle cx="628.98" cy="317.42" r="1.3"/><circle cx="630.58" cy="317.43" r="1.3"/><circle cx="632.18" cy="317.44" r="1.3"/><circle cx="633.78" cy="317.44" r="1.3"/><circle cx="635.38" cy="317.45" r="1.3"/><circle cx="636.98" cy="317.46" r="1.3"/><circle cx="638.58" cy="317.47" r="1.3"/><circle cx="640.18" cy="317.47" r="1.3"/><circle cx="641.78" cy="317.48" r="1.3"/><circle cx="643.38" cy="317.49" r="1.3"/><circle cx="644.98" cy="317.50" r="1.3"/></g>
<polyline points="512.00,299.80 512.50,302.50 513.30,305.10 515.00,307.30 517.00,308.80 519.30,309.80 521.80,310.20 526.00,310.50 531.60,311.20 543.80,312.50 556.00,313.50 574.30,314.70 600.00,315.40 620.00,315.70 645.00,315.90 669.50,316.10" fill="none" stroke="#ee3a43" stroke-width="3.4" stroke-linecap="butt" stroke-linejoin="round"/>
<polyline points="512.00,299.80 512.50,302.50 513.30,305.10 515.00,307.30 517.00,308.80 519.30,309.80 521.80,310.20 526.00,310.50 531.60,311.20 543.80,312.50 556.00,313.50 574.30,314.70 600.00,315.40 620.00,315.70 645.00,315.90 669.50,316.10" fill="none" stroke="#f67c83" stroke-width="1.5" stroke-linecap="butt" stroke-linejoin="round"/>
<polyline points="512.00,299.80 512.50,302.50 513.30,305.10 515.00,307.30 517.00,308.80 519.30,309.80 521.80,310.20" fill="none" stroke="#e8141c" stroke-width="3.2" stroke-linecap="round" stroke-linejoin="round" />
<line x1="512.30" y1="250.00" x2="512.30" y2="299.00" stroke="#ee4a52" stroke-width="0.7" stroke-dasharray="1,1.2"/>
<g fill="#fff" stroke="#f0686c" stroke-width="0.45"><rect x="511.20" y="250.00" width="2.0" height="2.0"/><rect x="511.20" y="252.20" width="2.0" height="2.0"/><rect x="511.20" y="284.70" width="2.0" height="2.0"/></g>
<polyline points="501.40,326.00 511.50,248.80" fill="none" stroke="#e8141c" stroke-width="3.2" stroke-linecap="round" stroke-linejoin="round" />
<rect x="510.1" y="247.1" width="4.0" height="3.0" rx="1" fill="#e8141c"/>
<line x1="527.00" y1="263.00" x2="521.40" y2="263.00" stroke="#111" stroke-width="0.9" />
<polygon points="517.20,263.00 522.40,261.30 522.40,264.70" fill="#111"/>
<text x="529.70" y="264.90" font-size="9.7" fill="#111" stroke="#111" stroke-width="0.18" text-anchor="start" >close contact force</text>
<line x1="543.60" y1="295.40" x2="537.50" y2="300.41" stroke="#111" stroke-width="0.8" />
<polygon points="534.10,303.20 536.88,298.07 539.67,301.47" fill="#111"/>
<text x="545.60" y="296.00" font-size="9.7" fill="#111" stroke="#111" stroke-width="0.18" text-anchor="start" >capillary force</text>
</g>
</svg></body></html>
